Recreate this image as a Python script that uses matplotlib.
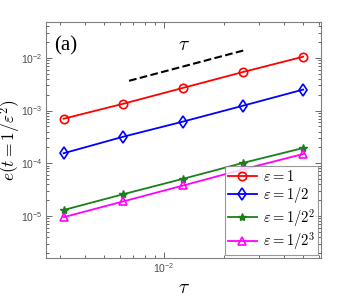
import numpy as np
import matplotlib
matplotlib.use("Agg")
from matplotlib import pyplot as plt
from matplotlib.ticker import LogLocator, NullFormatter

plt.rcParams["font.family"] = ["Liberation Sans", "DejaVu Sans"]
plt.rcParams["mathtext.fontset"] = "cm"

# time steps
tau = [1 / 320, 1 / 160, 1 / 80, 1 / 40, 1 / 20]

# errors e(t = 1/eps^2) for each eps
err_eps1 = [7.0e-4, 1.35e-3, 2.7e-3, 5.4e-3, 1.05e-2]
err_eps2 = [1.55e-4, 3.2e-4, 6.2e-4, 1.24e-3, 2.5e-3]
err_eps4 = [1.3e-5, 2.6e-5, 5.1e-5, 1.02e-4, 1.95e-4]
err_eps8 = [9.5e-6, 1.9e-5, 3.8e-5, 7.7e-5, 1.5e-4]

labels = [r"$\varepsilon = 1$", r"$\varepsilon = 1/2$",
          r"$\varepsilon = 1/2^2$", r"$\varepsilon = 1/2^3$"]

# reference slope line
ref_tau = [1 / 150, 1 / 39]
ref_c = 0.55

fig = plt.figure(figsize=(3.54, 3.00), dpi=100)
ax = fig.add_axes([0.130, 0.14, 0.777, 0.787])

ax.loglog(tau, err_eps1, "-o", color="#ff0000", lw=1.3, ms=6, mfc="none", mew=1.2, label=labels[0])
ax.loglog(tau, err_eps2, "-d", color="#0000ff", lw=1.3, ms=6, mfc="none", mew=1.2, label=labels[1])
ax.loglog(tau, err_eps4, "-*", color="#1a801a", lw=1.3, ms=6, mew=1.0, label=labels[2])
ax.loglog(tau, err_eps8, "-^", color="#ff00ff", lw=1.3, ms=6, mfc="none", mew=1.2, label=labels[3])

ax.loglog(ref_tau, [ref_c * t for t in ref_tau], "k--", lw=1.5)
ax.text(0.0126, 1.7e-2, r"$\tau$", fontsize=14, ha="center", va="center")
ax.text(0.073, 0.898, "(a)", fontsize=15, family="Liberation Serif",
        ha="center", va="center", transform=ax.transAxes)

ax.set_xlim(0.00255, 0.0615)
ax.set_ylim(1.6e-6, 4.8e-2)

ax.yaxis.set_major_locator(LogLocator(base=10, numticks=10))
ax.xaxis.set_minor_formatter(NullFormatter())
ax.tick_params(which="both", direction="in", top=True, right=True, colors="#4d4d4d",
               labelsize=7.5, width=0.6, pad=2.5)
ax.tick_params(which="major", length=4)
ax.tick_params(which="minor", length=2)
for s in ax.spines.values():
    s.set_color("#808080")
    s.set_linewidth(0.8)

ax.set_xlabel(r"$\tau$", fontsize=14)
ax.xaxis.set_label_coords(0.5, -0.095)
ax.set_ylabel(r"$e(t=1/\varepsilon^2)$", fontsize=12.5)
ax.yaxis.set_label_coords(-0.084, 0.5)

leg = ax.legend(loc="lower right", fontsize=10.5, frameon=True, fancybox=False,
                borderpad=0.2, labelspacing=0.1, handlelength=2.0, handletextpad=0.4,
                borderaxespad=0.2)
leg.get_frame().set_edgecolor("#808080")
leg.get_frame().set_linewidth(0.8)

fig.savefig("out.png", dpi=100)
